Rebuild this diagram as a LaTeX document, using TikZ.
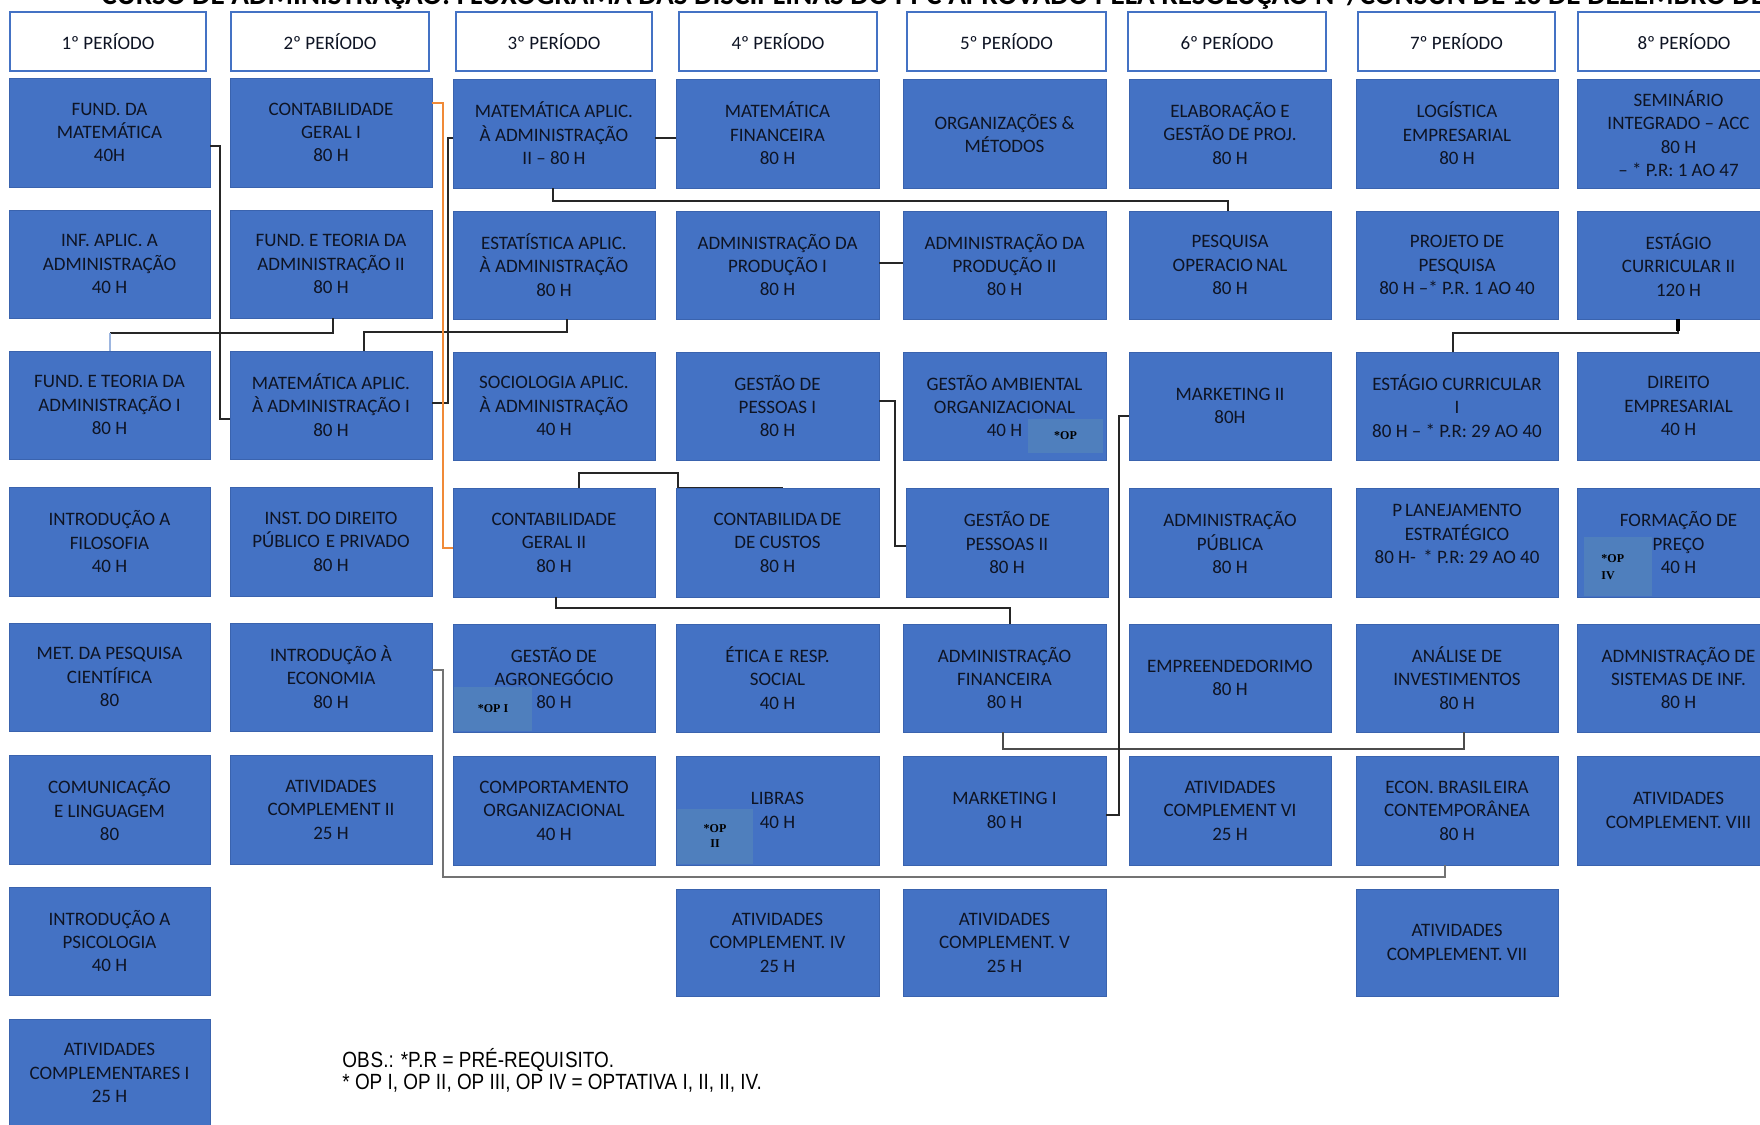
\documentclass[tikz,border=0pt]{standalone}
\usepackage{fontspec}
\setmainfont{Carlito}
\newfontfamily\obsfont[FakeStretch=0.86]{Liberation Sans}
\newfontfamily\opfont{Liberation Serif}
\definecolor{boxblue}{HTML}{4472C4}
\definecolor{boxedge}{HTML}{3A63AE}
\definecolor{opblue}{HTML}{4F7FBD}
\definecolor{txt}{HTML}{0E1424}
\definecolor{orangeline}{HTML}{F08A38}
\definecolor{lightline}{HTML}{9DB6E0}
\tikzset{
  cbox/.style={rectangle, fill=boxblue, draw=boxedge, line width=0.4pt, inner sep=0pt, align=center, text=txt, font=\fontsize{9.5}{11.7}\selectfont},
  hbox/.style={rectangle, fill=white, draw=boxblue, line width=1.4pt, inner sep=0pt, align=center, text=txt, font=\fontsize{9.5}{11.7}\selectfont},
  opbox/.style={rectangle, fill=opblue, inner sep=0pt, text=black, align=center, font=\opfont\bfseries\fontsize{6}{7.5}\selectfont},
  conn/.style={draw=black!85, line width=0.8pt},
  grayconn/.style={draw=black!55, line width=1.2pt},
  orangeconn/.style={draw=orangeline, line width=1.4pt},
}
\newcommand\course[6]{\node[cbox, minimum width={(#4-#2)*0.5pt}, minimum height={(#5-#3)*0.5pt}] (#1) at ({(#2+#4)/2},{(#3+#5)/2}) {#6};}
\newcommand\header[4]{\node[hbox, minimum width={(#3-#2)*0.5pt}, minimum height={(71-12)*0.5pt}] (#1) at ({(#2+#3)/2},41.5) {#4};}
\newcommand\opmark[6]{\node[opbox, minimum width={(#4-#2)*0.5pt}, minimum height={(#5-#3)*0.5pt}] (#1) at ({(#2+#4)/2},{(#3+#5)/2}) {#6};}
\begin{document}
\begin{tikzpicture}[x=0.5pt,y=-0.5pt]
\useasboundingbox (0,0) rectangle (1760,1124);
% title (cut off at the top, as in the source)
\node[anchor=base west, inner sep=0pt, text=black, font=\bfseries\fontsize{14.6}{14.6}\selectfont] (title) at (101,4.5) {CURSO DE ADMINISTRAÇÃO: FLUXOGRAMA DAS DISCIPLINAS DO PPC APROVADO PELA RESOLUÇÃO Nº/CONSUN DE 16 DE DEZEMBRO DE 2019};
% headers
\header{h1}{10}{206}{1º PERÍODO}
\header{h2}{231}{429}{2º PERÍODO}
\header{h3}{456}{652}{3º PERÍODO}
\header{h4}{679}{877}{4º PERÍODO}
\header{h5}{907}{1106}{5º PERÍODO}
\header{h6}{1128}{1326}{6º PERÍODO}
\header{h7}{1358}{1555}{7º PERÍODO}
\header{h8}{1578}{1790}{8º PERÍODO}
% column 1
\course{fm}{9}{78}{210}{187}{FUND. DA\\MATEMÁTICA\\40H}
\course{ia}{9}{210}{210}{318}{INF. APLIC. A\\ADMINISTRAÇÃO\\40 H}
\course{ft1}{9}{351}{210}{459}{FUND. E TEORIA DA\\ADMINISTRAÇÃO I\\80 H}
\course{ifi}{9}{487}{210}{596}{INTRODUÇÃO A\\FILOSOFIA\\40 H}
\course{mp}{9}{623}{210}{731}{MET. DA PESQUISA\\CIENTÍFICA\\80}
\course{cl}{9}{755}{210}{864}{COMUNICAÇÃO\\E LINGUAGEM\\80}
\course{ip}{9}{887}{210}{995}{INTRODUÇÃO A\\PSICOLOGIA\\40 H}
\course{ac1}{9}{1019}{210}{1127}{ATIVIDADES\\COMPLEMENTARES I\\25 H}
% column 2
\course{cg1}{230}{78}{432}{187}{CONTABILIDADE\\GERAL I\\80 H}
\course{ft2}{230}{210}{432}{318}{FUND. E TEORIA DA\\ADMINISTRAÇÃO II\\80 H}
\course{ma1}{230}{351}{432}{459}{MATEMÁTICA APLIC.\\À ADMINISTRAÇÃO I\\80 H}
\course{id}{230}{487}{432}{596}{INST. DO DIREITO\\PÚBLICO\kern3pt E PRIVADO\\80 H}
\course{ie}{230}{623}{432}{731}{INTRODUÇÃO À\\ECONOMIA\\80 H}
\course{ac2}{230}{755}{432}{864}{ATIVIDADES\\COMPLEMENT II\\25 H}
% column 3
\course{ma2}{453}{79}{655}{188}{MATEMÁTICA APLIC.\\À ADMINISTRAÇÃO\\II – 80 H}
\course{est}{453}{211}{655}{319}{ESTATÍSTICA APLIC.\\À ADMINISTRAÇÃO\\80 H}
\course{soc}{453}{352}{655}{460}{SOCIOLOGIA APLIC.\\À ADMINISTRAÇÃO\\40 H}
\course{cg2}{453}{488}{655}{597}{CONTABILIDADE\\GERAL II\\80 H}
\course{ga}{453}{624}{655}{732}{GESTÃO DE\\AGRONEGÓCIO\\80 H}
\course{co}{453}{756}{655}{865}{COMPORTAMENTO\\ORGANIZACIONAL\\40 H}
% column 4
\course{mf}{676}{79}{879}{188}{MATEMÁTICA\\FINANCEIRA\\80 H}
\course{ap1}{676}{211}{879}{319}{ADMINISTRAÇÃO DA\\PRODUÇÃO I\\80 H}
\course{gp1}{676}{352}{879}{460}{GESTÃO DE\\PESSOAS I\\80 H}
\course{cc}{676}{488}{879}{597}{CONTABILIDA\kern1.5pt DE\\DE CUSTOS\\80 H}
\course{et}{676}{624}{879}{732}{ÉTICA E\kern3pt RESP.\\SOCIAL\\40 H}
\course{lb}{676}{756}{879}{865}{LIBRAS\\40 H}
\course{ac4}{676}{889}{879}{996}{ATIVIDADES\\COMPLEMENT. IV\\25 H}
% column 5
\course{om}{903}{79}{1106}{188}{ORGANIZAÇÕES \&\\MÉTODOS}
\course{ap2}{903}{211}{1106}{319}{ADMINISTRAÇÃO DA\\PRODUÇÃO II\\80 H}
\course{gam}{903}{352}{1106}{460}{GESTÃO AMBIENTAL\\ORGANIZACIONAL\\40 H}
\course{gp2}{906}{488}{1108}{597}{GESTÃO DE\\PESSOAS II\\80 H}
\course{af}{903}{624}{1106}{732}{ADMINISTRAÇÃO\\FINANCEIRA\\80 H}
\course{mk1}{903}{756}{1106}{865}{MARKETING I\\80 H}
\course{ac5}{903}{889}{1106}{996}{ATIVIDADES\\COMPLEMENT. V\\25 H}
% column 6
\course{eg}{1129}{79}{1331}{188}{ELABORAÇÃO E\\GESTÃO DE PROJ.\\80 H}
\course{po}{1129}{211}{1331}{319}{PESQUISA\\OPERACIO\kern1.5pt NAL\\80 H}
\course{mk2}{1129}{352}{1331}{460}{MARKETING II\\80H}
\course{apu}{1129}{488}{1331}{597}{ADMINISTRAÇÃO\\PÚBLICA\\80 H}
\course{emp}{1129}{624}{1331}{732}{EMPREENDEDORIMO\\80 H}
\course{ac6}{1129}{756}{1331}{865}{ATIVIDADES\\COMPLEMENT VI\\25 H}
% column 7
\course{log}{1356}{79}{1558}{188}{LOGÍSTICA\\EMPRESARIAL\\80 H}
\course{pp}{1356}{211}{1558}{319}{PROJETO DE\\PESQUISA\\80 H –* P.R. 1 AO 40}
\course{ec1}{1356}{352}{1558}{460}{ESTÁGIO CURRICULAR\\I\\80 H – * P.R: 29 AO 40}
\node[cbox, minimum width={(1558-1356)*0.5pt}, minimum height={(597-488)*0.5pt}] (pe) at (1457,542.5) {};
\node[align=center, text=txt, inner sep=0pt, font=\fontsize{9.5}{11.7}\selectfont] (pet) at (1457,534) {P\kern1.5pt LANEJAMENTO\\ESTRATÉGICO\\80 H- \,* P.R: 29 AO 40};
\course{ai}{1356}{624}{1558}{732}{ANÁLISE DE\\INVESTIMENTOS\\80 H}
\course{eb}{1356}{756}{1558}{865}{ECON. BRASIL\kern1pt EIRA\\CONTEMPORÂNEA\\80 H}
\course{ac7}{1356}{889}{1558}{996}{ATIVIDADES\\COMPLEMENT. VII}
% column 8
\course{sem}{1577}{79}{1780}{188}{SEMINÁRIO\\INTEGRADO – ACC\\80 H\\– * P.R: 1 AO 47}
\course{ec2}{1577}{211}{1780}{319}{ESTÁGIO\\CURRICULAR II\\120 H}
\course{de}{1577}{352}{1780}{460}{DIREITO\\EMPRESARIAL\\40 H}
\course{fp}{1577}{488}{1780}{597}{FORMAÇÃO DE\\PREÇO\\40 H}
\course{asi}{1577}{624}{1780}{732}{ADMNISTRAÇÃO DE\\SISTEMAS DE INF.\\80 H}
\course{ac8}{1577}{756}{1780}{865}{ATIVIDADES\\COMPLEMENT. VIII}
% optional marks
\opmark{op1}{454}{687}{532}{731}{*OP I}
\opmark{op2}{677}{809}{753}{864}{*OP\\II}
\opmark{op3}{1028}{419}{1103}{453}{*OP}
\node[opbox, minimum width={(1652-1584)*0.5pt}, minimum height={(596-537)*0.5pt}] (op4) at (1618,566.5) {};
\node[anchor=west, inner sep=0pt, align=left, text=black, font=\opfont\bfseries\fontsize{6}{8.5}\selectfont] (op4t) at (1601,567) {*OP\\IV};
% connectors
\draw[conn, line width=1.2pt] (fm.east |- 0,146) -| (220,419) -- (ma1.west |- 0,419);
\draw[conn] (ft2.south -| 333,0) -- (333,333) -- (110,333);
\draw[draw=lightline, line width=1pt] (110,333) -- (ft1.north -| 110,0);
\draw[conn] (ma1.north -| 364,0) -- (364,332) -| (est.south -| 567,0);
\draw[conn] (ma1.east |- 0,403) -- (448,403) |- (ma2.west |- 0,138);
\draw[orangeconn] (cg1.east |- 0,103) -| (443,548) -- (cg2.west |- 0,548);
\draw[conn] (ma2.east |- 0,138) -- (mf.west |- 0,138);
\draw[conn] (ma2.south -| 553,0) -- (553,201) -| (po.north -| 1228,0);
\draw[conn] (ap1.east |- 0,263) -- (ap2.west |- 0,263);
\draw[conn] (gp1.east |- 0,401) -| (895,546) -- (gp2.west |- 0,546);
\draw[conn] (cg2.north -| 579,0) |- (678,473) -- (cc.north -| 678,0) -- (cc.north -| 783,0);
\draw[conn] (cg2.south -| 556,0) |- (1010,608) -- (af.north -| 1010,0);
\draw[grayconn] (ie.east |- 0,670) -| (443,877) -| (eb.south -| 1445,0);
\draw[conn, draw=black!70] (af.south -| 1003,0) |- (1464,749) -- (ai.south -| 1464,0);
\draw[conn] (mk1.east |- 0,815) -| (1119,416) -- (mk2.west |- 0,416);
\draw[conn] (ec2.south -| 1678,0) |- (1453,333) -- (ec1.north -| 1453,0);
\draw[draw=black, line width=2pt] (ec2.south -| 1678,0) -- (1678,331);
% note
\node[anchor=north west, inner sep=0pt, align=left, text=black, font=\obsfont\fontsize{11}{11.2}\selectfont] (obs) at (342,1048) {OB\kern0.5pt S.: *P.R = PRÉ-REQUI\kern0.5pt SITO.\\* OP I, OP II, OP III, OP IV = OPTATIVA I, II, II, IV.};
\end{tikzpicture}
\end{document}
